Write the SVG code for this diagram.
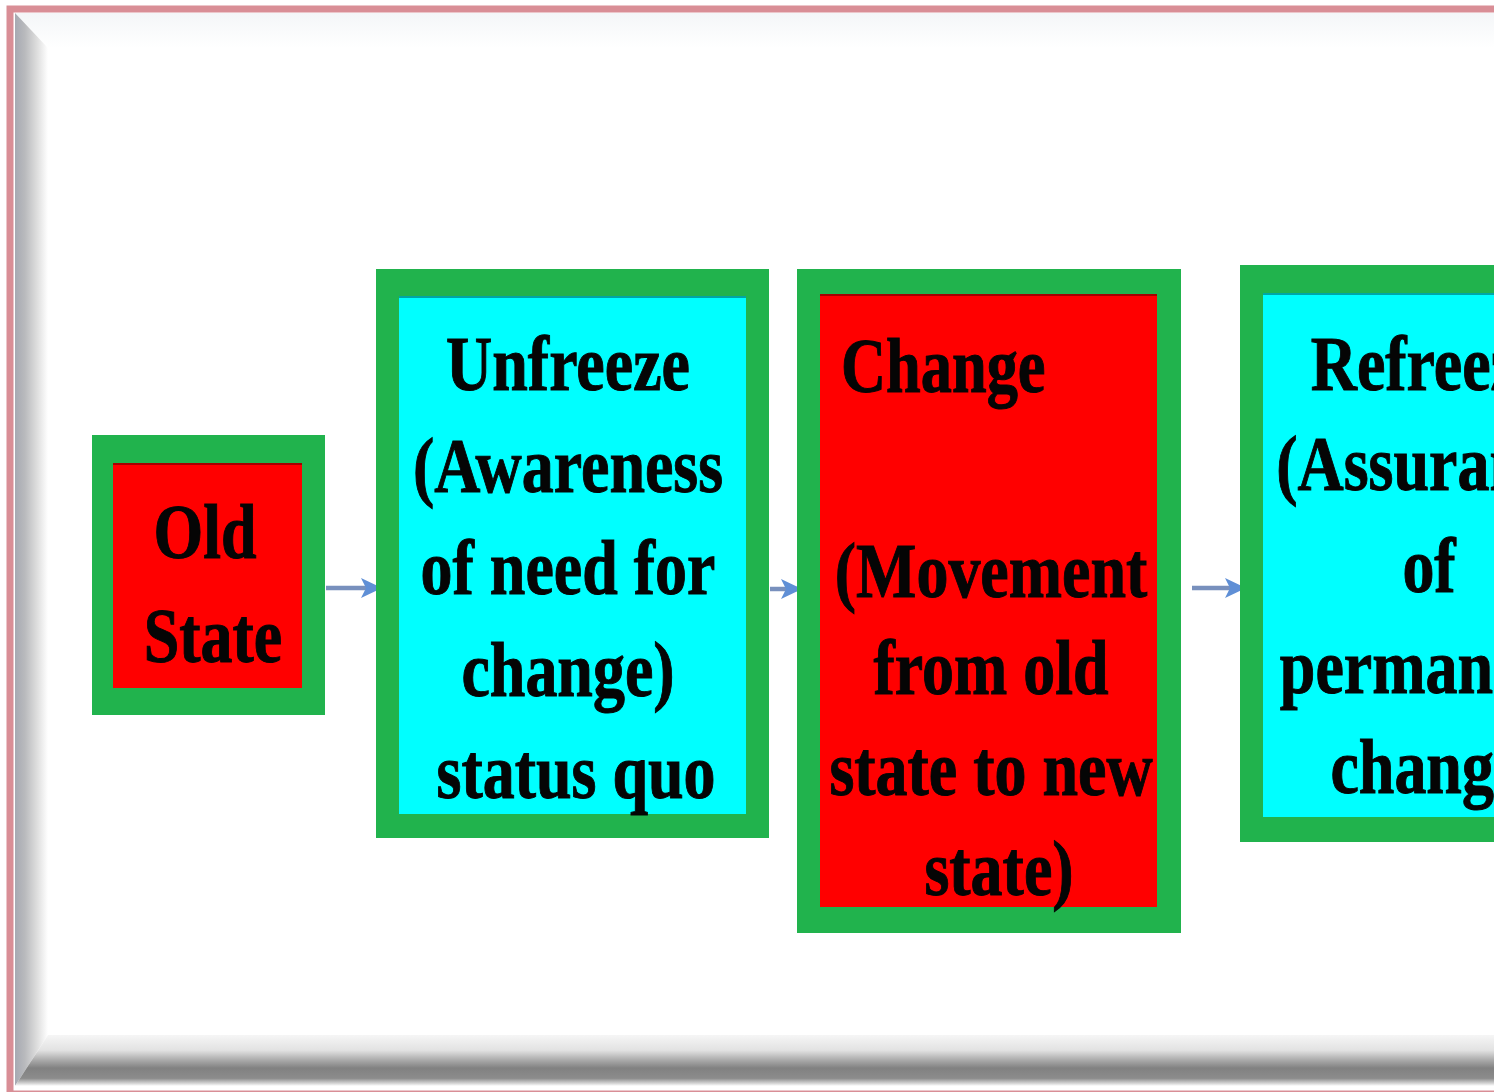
<svg xmlns="http://www.w3.org/2000/svg" width="1494" height="1092" viewBox="0 0 1494 1092">
  <style>
    .outer { fill: #21b34d; }
    .red { fill: #ff0000; }
    .cyan { fill: #00ffff; }
    .edge { stroke: rgba(0,0,0,0.35); stroke-width: 2; }
    .lbl { font-family: "Liberation Serif", "Times New Roman", serif; font-weight: bold; font-size: 78px; fill: #050505; stroke: #050505; stroke-width: 1; }
    .conn { stroke: #7890bd; stroke-width: 4.5; fill: none; }
  </style>
  <defs>
    <linearGradient id="bevelLeft" x1="0" y1="0" x2="1" y2="0">
      <stop offset="0" stop-color="#a6a9b2"/>
      <stop offset="0.3" stop-color="#b9babd"/>
      <stop offset="0.65" stop-color="#dcdcdc"/>
      <stop offset="1" stop-color="#ffffff"/>
    </linearGradient>
    <linearGradient id="bevelBottom" x1="0" y1="0" x2="0" y2="1">
      <stop offset="0" stop-color="#f6f6f6"/>
      <stop offset="0.3" stop-color="#e2e2e2"/>
      <stop offset="0.5" stop-color="#a8a8a8"/>
      <stop offset="0.65" stop-color="#818181"/>
      <stop offset="0.85" stop-color="#8c8c8c"/>
      <stop offset="0.95" stop-color="#d6d6d6"/>
      <stop offset="1" stop-color="#ffffff"/>
    </linearGradient>
    <linearGradient id="bevelTop" x1="0" y1="0" x2="0" y2="1">
      <stop offset="0" stop-color="#f4f6f8"/>
      <stop offset="1" stop-color="#ffffff"/>
    </linearGradient>
    <marker id="head" markerUnits="userSpaceOnUse" markerWidth="24" markerHeight="24" refX="21" refY="12" orient="auto">
      <path d="M0,2 L21,12 L0,22 L5,12 Z" fill="#5f8fd6"/>
    </marker>
  </defs>

  <!-- framed background with bevelled edges -->
  <g id="frame">
    <rect x="0" y="0" width="1494" height="1092" fill="#ffffff"/>
    <polygon points="15,13 1600,13 1600,48 48,48" fill="url(#bevelTop)"/>
    <polygon points="15,13 48,48 48,1035 15,1086" fill="url(#bevelLeft)"/>
    <polygon points="15,1086 48,1035 1600,1035 1600,1086" fill="url(#bevelBottom)"/>
    <rect x="10" y="9" width="1600" height="1085" fill="none" stroke="#d98e96" stroke-width="7"/>
  </g>

  <!-- connectors -->
  <g id="connectors">
    <line class="conn" x1="326" y1="588" x2="382" y2="588" marker-end="url(#head)"/>
    <line class="conn" x1="770" y1="589" x2="802" y2="589" marker-end="url(#head)"/>
    <line class="conn" x1="1192" y1="588" x2="1246" y2="588" marker-end="url(#head)"/>
  </g>

  <g id="old-state">
    <rect class="outer" x="92" y="435" width="233" height="280"/>
    <rect class="red" x="113" y="463" width="189" height="225"/>
    <line class="edge" x1="113" y1="464" x2="302" y2="464"/>
    <text class="lbl" text-anchor="middle" transform="translate(213 0) scale(0.82 1)">
      <tspan x="0" y="558">Old</tspan>
      <tspan x="0" y="662">State</tspan>
    </text>
  </g>

  <g id="unfreeze">
    <rect class="outer" x="376" y="269" width="393" height="569"/>
    <rect class="cyan" x="399" y="296" width="347" height="518"/>
    <line class="edge" x1="399" y1="297" x2="746" y2="297"/>
    <text class="lbl" text-anchor="middle" transform="translate(576 0) scale(0.82 1)">
      <tspan x="0" y="390">Unfreeze</tspan>
      <tspan x="0" y="492">(Awareness</tspan>
      <tspan x="0" y="594">of need for</tspan>
      <tspan x="0" y="696">change)</tspan>
      <tspan x="0" y="798">status quo</tspan>
    </text>
  </g>

  <g id="change">
    <rect class="outer" x="797" y="269" width="384" height="664"/>
    <rect class="red" x="820" y="294" width="337" height="613"/>
    <line class="edge" x1="820" y1="295" x2="1157" y2="295"/>
    <text class="lbl" transform="translate(841 0) scale(0.8 1)">
      <tspan x="0" y="392">Change</tspan>
    </text>
    <text class="lbl" text-anchor="middle" transform="translate(999 0) scale(0.82 1)">
      <tspan x="0" y="597">(Movement</tspan>
      <tspan x="0" y="694">from old</tspan>
      <tspan x="0" y="795">state to new</tspan>
      <tspan x="0" y="895">state)</tspan>
    </text>
  </g>

  <g id="refreeze">
    <rect class="outer" x="1240" y="265" width="385" height="577"/>
    <rect class="cyan" x="1263" y="293" width="339" height="524"/>
    <line class="edge" x1="1263" y1="294" x2="1602" y2="294"/>
    <text class="lbl" text-anchor="middle" transform="translate(1437 0) scale(0.82 1)">
      <tspan x="0" y="390">Refreeze</tspan>
      <tspan x="0" y="490">(Assurance</tspan>
      <tspan x="0" y="592">of</tspan>
      <tspan x="0" y="693">permanent</tspan>
      <tspan x="0" y="793">change)</tspan>
    </text>
  </g>
</svg>
